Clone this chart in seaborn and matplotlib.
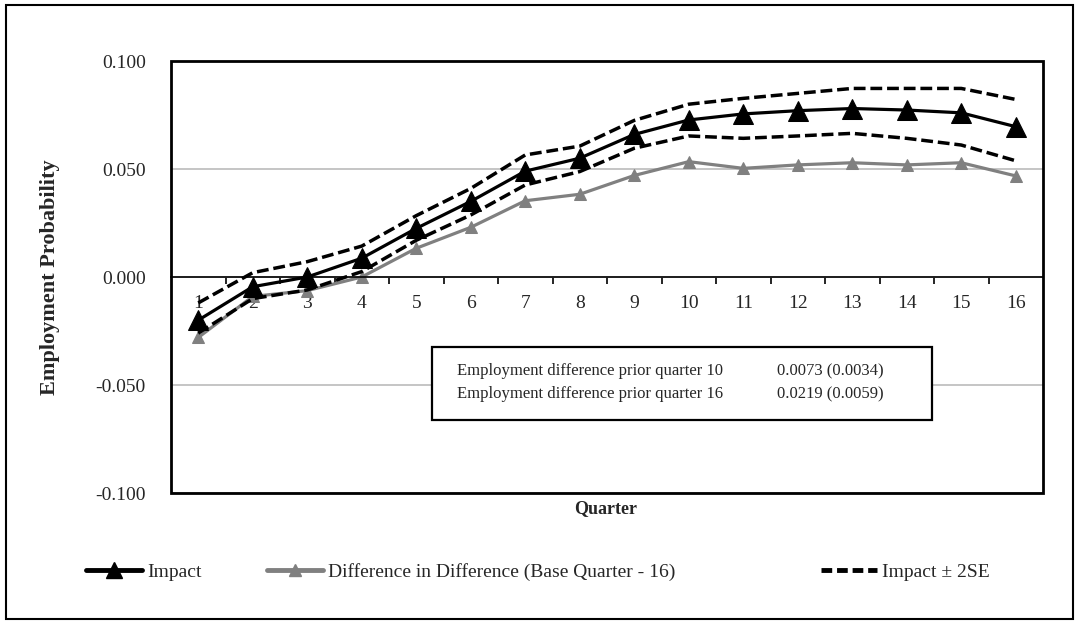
import matplotlib
matplotlib.use("Agg")
import matplotlib.pyplot as plt
from matplotlib.patches import Rectangle
from matplotlib.lines import Line2D
from matplotlib.ticker import FixedLocator, FuncFormatter
import seaborn as sns

# values
quarters = list(range(1, 17))
impact = [-0.020, -0.0045, 0.000, 0.0087, 0.0225, 0.035, 0.049, 0.055,
          0.066, 0.0727, 0.0755, 0.077, 0.078, 0.0773, 0.076, 0.0696]
did = [-0.028, -0.009, -0.0063, 0.000, 0.0133, 0.023, 0.0353, 0.0383,
       0.047, 0.0534, 0.0503, 0.0519, 0.0529, 0.0519, 0.0529, 0.0468]
upper = [-0.012, 0.002, 0.0071, 0.0143, 0.0284, 0.041, 0.0565, 0.0606,
         0.0725, 0.080, 0.0827, 0.085, 0.0873, 0.0873, 0.0873, 0.0822]
lower = [-0.026, -0.010, -0.006, 0.0025, 0.017, 0.0287, 0.0426, 0.0488,
         0.0596, 0.0653, 0.0642, 0.0653, 0.0665, 0.0642, 0.0611, 0.0538]
y_ticks = [-0.100, -0.050, 0.000, 0.050, 0.100]
box_rows = [("Employment difference prior quarter 10", "0.0073 (0.0034)"),
            ("Employment difference prior quarter 16", "0.0219 (0.0059)")]
legend_labels = ['Impact', 'Difference in Difference (Base Quarter - 16)', 'Impact ± 2SE']

sns.set_theme(style="white")
plt.rcParams['font.family'] = ['Liberation Serif', 'DejaVu Serif']

fig = plt.figure(figsize=(10.79, 6.24), dpi=100)
ax = fig.add_axes([171 / 1079, 1 - 493 / 624, 872 / 1079, 432 / 624])

dash = (0, (3.4, 1.4))
sns.lineplot(x=quarters, y=did, color='#808080', lw=2.3, marker='^',
             markersize=9, markeredgecolor='#808080', ax=ax)
sns.lineplot(x=quarters, y=upper, color='black', lw=2.5, linestyle=dash, ax=ax)
sns.lineplot(x=quarters, y=lower, color='black', lw=2.5, linestyle=dash, ax=ax)
sns.lineplot(x=quarters, y=impact, color='black', lw=2.3, marker='^',
             markersize=14, markeredgecolor='black', ax=ax)

ax.set_xlim(0.5, 16.5)
ax.set_ylim(-0.1, 0.1)

# y axis
ax.yaxis.set_major_locator(FixedLocator(y_ticks))
ax.yaxis.set_major_formatter(FuncFormatter(lambda v, p: f"{v:.3f}"))
ax.tick_params(axis='y', length=0, pad=18, labelsize=14)
ax.grid(axis='y', color='#c0c0c0', lw=1.3)
ax.grid(axis='x', visible=False)
ax.set_axisbelow(True)

# x axis crosses at zero
ax.spines['bottom'].set_position(('data', 0))
ax.spines['bottom'].set_linewidth(1.2)
ax.spines['bottom'].set_color('black')
for s in ['top', 'left', 'right']:
    ax.spines[s].set_visible(False)
ax.add_patch(Rectangle((0, 0), 1, 1, transform=ax.transAxes, fill=False,
                       lw=2.0, ec='black', clip_on=False, zorder=5))
ax.set_xticks(quarters)
ax.set_xticklabels([str(q) for q in quarters])
ax.set_xticks([q + 0.5 for q in quarters[:-1]], minor=True)
ax.tick_params(axis='x', which='major', length=0, pad=13, labelsize=14)
ax.tick_params(axis='x', which='minor', length=5, width=1.2, color='black',
               direction='out', bottom=True)

ax.set_ylabel('Employment Probability', fontsize=16, fontweight='bold')
ax.yaxis.set_label_coords(-0.127, 0.5)
ax.set_xlabel('')
fig.text(606 / 1079, 1 - 509 / 624, 'Quarter', fontsize=13, fontweight='bold',
         ha='center', va='center')

# stats box
ax.add_patch(Rectangle((0.2993, 0.169), 0.5734, 0.169, transform=ax.transAxes,
                       fc='white', ec='black', lw=1.6, zorder=6))
for (lab, val), yy in zip(box_rows, [0.282, 0.229]):
    ax.text(0.328, yy, lab, transform=ax.transAxes, fontsize=12,
            va='center', zorder=7)
    ax.text(0.695, yy, val, transform=ax.transAxes, fontsize=12,
            va='center', zorder=7)

# legend, one entry each so they sit where the reference has them
if ax.get_legend():
    ax.get_legend().remove()
proxies = [
    Line2D([], [], color='black', lw=3.5, marker='^', markersize=11),
    Line2D([], [], color='#808080', lw=3.5, marker='^', markersize=8),
    Line2D([], [], color='black', lw=3.5, linestyle=(0, (2.2, 1.0))),
]
starts = [80, 261, 815]
for h, lab, x0 in zip(proxies, legend_labels, starts):
    fig.legend([h], [lab], loc='center left',
               bbox_to_anchor=(x0 / 1079, 1 - 572 / 624), frameon=False,
               fontsize=14, handlelength=2.9, handletextpad=0.25,
               borderpad=0, borderaxespad=0.3)

# outer chart border
fig.patches.append(Rectangle((6 / 1079, 5 / 624), 1067 / 1079, 614 / 624,
                             transform=fig.transFigure, fill=False, lw=1.5, ec='black'))

fig.savefig('out.png', dpi=100)
